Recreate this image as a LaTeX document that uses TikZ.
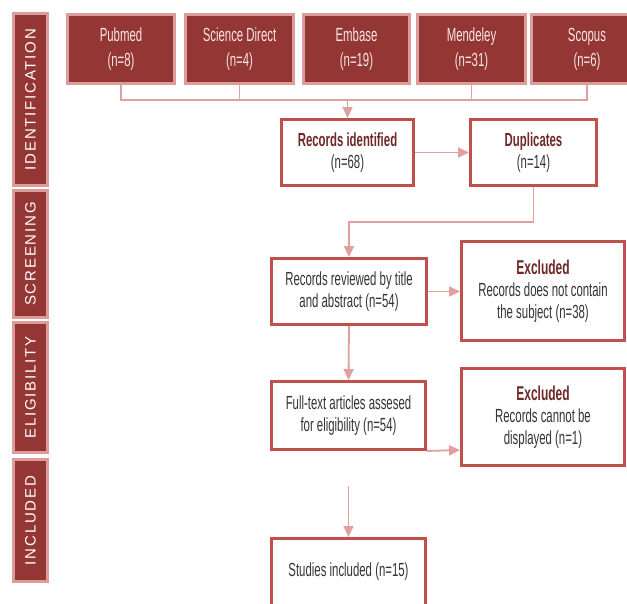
\documentclass[tikz,border=0pt]{standalone}
\usepackage{fontspec}
\setmainfont[FakeStretch=0.6]{Liberation Sans}
\newfontfamily\barfont[LetterSpace=12]{Liberation Sans}
\usetikzlibrary{arrows.meta}
\definecolor{darkred}{HTML}{943634}
\definecolor{palered}{HTML}{DC9C9A}
\definecolor{boxred}{HTML}{C0504D}
\definecolor{headred}{HTML}{6E2A28}
\definecolor{bodygray}{HTML}{333333}
\definecolor{linkpink}{HTML}{E0A09E}
\definecolor{toptext}{HTML}{F7E6E5}
\tikzset{
  barbox/.style={draw=palered, line width=3, fill=darkred, text=white,
    font=\barfont\fontsize{15}{18}\selectfont, inner sep=0, rotate=90},
  srcbox/.style={draw=palered, line width=3, fill=darkred, text=toptext,
    font=\fontsize{19}{25}\selectfont, align=center, inner sep=0},
  wbox/.style={draw=boxred, line width=3, fill=white, text=bodygray,
    font=\fontsize{19}{22}\selectfont, align=center, inner sep=0},
  link/.style={draw=linkpink, line width=1.8},
  arr/.style={link, -{Triangle[length=11,width=10]}}
}
\newcommand{\hd}[1]{{\bfseries\color{headred}#1}}
\newcommand{\hdx}[1]{{\fontsize{20}{24}\selectfont\bfseries\color{headred}#1}}
\begin{document}
\begin{tikzpicture}[x=1pt,y=-1pt]
\useasboundingbox (0,0) rectangle (627,603);
% side bar
\node[barbox, minimum width=172, minimum height=34] (ident) at (30.5,99.5) {IDENTIFICATION};
\node[barbox, minimum width=127, minimum height=34] (screen) at (30.5,254) {SCREENING};
\node[barbox, minimum width=130, minimum height=34] (elig) at (30.5,387.5) {ELIGIBILITY};
\node[barbox, minimum width=122, minimum height=34] (incl) at (30.5,520.5) {INCLUDED};
% sources
\node[srcbox, minimum width=107, minimum height=69] (pub) at (121,49) {Pubmed\\(n=8)};
\node[srcbox, minimum width=108, minimum height=69] (sd) at (239.5,49) {Science Direct\\(n=4)};
\node[srcbox, minimum width=106, minimum height=69] (emb) at (356.5,49) {Embase\\(n=19)};
\node[srcbox, minimum width=108, minimum height=69] (mend) at (471.5,49) {Mendeley\\(n=31)};
\node[srcbox, minimum width=111, minimum height=69] (scop) at (587,49) {Scopus\\(n=6)};
% flow boxes
\node[wbox, minimum width=132, minimum height=66] (recid) at (347.5,152.5) {\hd{Records identified}\\(n=68)};
\node[wbox, minimum width=126, minimum height=66] (dup) at (533.5,152.5) {\hd{Duplicates}\\(n=14)};
\node[wbox, minimum width=155, minimum height=66] (rev) at (349,291.5) {Records reviewed by title\\and abstract (n=54)};
\node[wbox, minimum width=163, minimum height=99] (ex1) at (543,291) {\hdx{Excluded}\\Records does not contain\\the subject (n=38)};
\node[wbox, minimum width=154, minimum height=68] (full) at (348.5,415.5) {Full-text articles assesed\\for eligibility (n=54)};
\node[wbox, minimum width=163, minimum height=97] (ex2) at (543,417) {\hdx{Excluded}\\Records cannot be\\displayed (n=1)};
\node[wbox, minimum width=154, minimum height=67] (stud) at (348.5,572) {Studies included (n=15)};
% connectors
\coordinate (bus) at (0,100);
\draw[link] (pub.south) |- (bus -| scop.south) -- (scop.south);
\draw[link] (sd.south) -- (sd.south |- bus);
\draw[link] (mend.south) -- (mend.south |- bus);
\draw[arr] (recid.north |- bus) -- (recid.north);
\draw[arr] (recid.east) -- (dup.west);
\coordinate (bend) at (0,222);
\draw[arr] (dup.south) |- (bend -| rev.north) -- (rev.north);
\draw[arr] (rev.east) -- (rev.east -| ex1.west);
\draw[arr] (rev.south) -- (full.north);
\draw[arr] (full.south east) -- ([yshift=1]full.south east -| ex2.west);
\coordinate (gapstart) at (348.5,486);
\draw[arr] (gapstart) -- (stud.north);
\end{tikzpicture}
\end{document}
